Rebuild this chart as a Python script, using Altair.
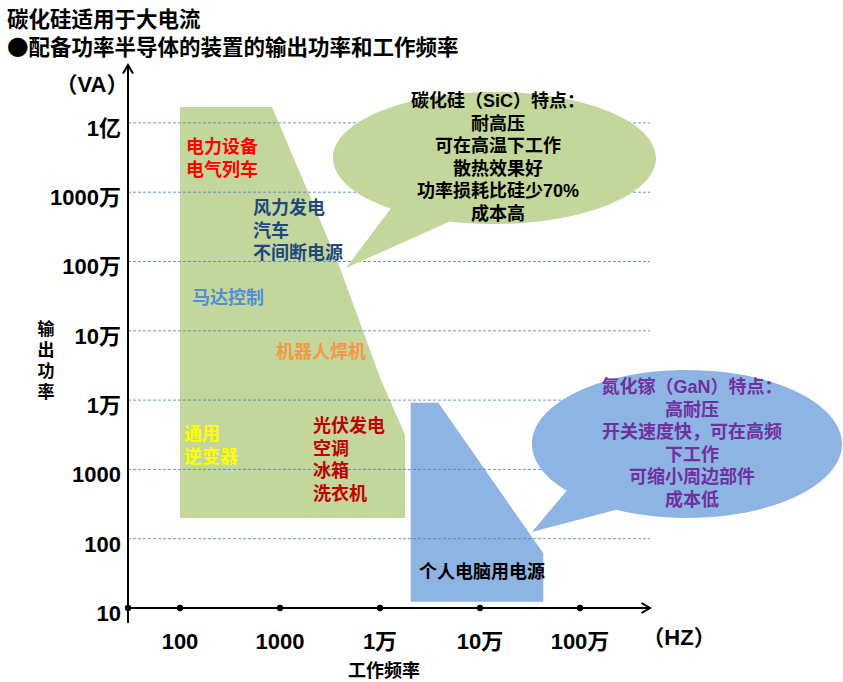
import altair as alt
import pandas as pd

# All positions are in decades: x = log10(working frequency, Hz), y = log10(output power, VA)
y_tick_exp = [1, 2, 3, 4, 5, 6, 7, 8]
y_tick_labels = ["10", "100", "1000", "1万", "10万", "100万", "1000万", "1亿"]
x_tick_exp = [2, 3, 4, 5, 6]
x_tick_labels = ["100", "1000", "1万", "10万", "100万"]

# SiC application region (green) and GaN region (blue)
sic_x = [2.0, 2.92, 3.57, 4.01, 4.25]
sic_top = [8.23, 8.23, 6.02, 4.29, 3.50]
sic_bottom = 2.30
gan_x = [4.307, 4.583, 5.633]
gan_top = [3.962, 3.962, 1.789]
gan_bottom = 1.091

# application labels (position of the first line)
app_texts = ["电力设备\n电气列车", "风力发电\n汽车\n不间断电源", "马达控制", "机器人焊机",
             "通用\n逆变器", "光伏发电\n空调\n冰箱\n洗衣机", "个人电脑用电源"]
app_x = [2.06, 2.73, 2.12, 2.96, 2.04, 3.33, 4.39]
app_y = [7.638, 6.758, 5.459, 4.680, 3.496, 3.612, 1.505]
app_colors = ["#FF0000", "#1F497D", "#558ED5", "#F79646", "#FFFF00", "#C00000", "#000000"]

sic_note = "碳化硅（SiC）特点：\n耐高压\n可在高温下工作\n散热效果好\n功率损耗比硅少70%\n成本高"
gan_note = "氮化镓（GaN）特点：\n高耐压\n开关速度快，可在高频\n下工作\n可缩小周边部件\n成本低"

title_lines = ["碳化硅适用于大电流", "●配备功率半导体的装置的输出功率和工作频率"]

# frame extents (in decades)
AX_X0, AX_X1 = 1.48, 6.70
AX_Y0, AX_Y1 = 0.784, 8.835
X_DOM = [0.2, 8.63]
Y_DOM = [-0.0678, 9.7734]

GREEN = "#C3D69B"
BLUE = "#8DB4E2"
NUMFONT = "Liberation Sans, Noto Sans CJK SC"
CJK = "Noto Sans CJK SC"

xs = alt.Scale(domain=X_DOM, nice=False, zero=False)
ys = alt.Scale(domain=Y_DOM, nice=False, zero=False)
X = lambda f="x": alt.X(f"{f}:Q", scale=xs, axis=None)
Y = lambda f="y": alt.Y(f"{f}:Q", scale=ys, axis=None)


def bubble_path(rx, ry, tail, r):
    k = 0.5523
    a, b = rx / r, ry / r
    p = (f"M{a:.4f},0 C{a:.4f},{k*b:.4f} {k*a:.4f},{b:.4f} 0,{b:.4f} "
         f"C{-k*a:.4f},{b:.4f} {-a:.4f},{k*b:.4f} {-a:.4f},0 "
         f"C{-a:.4f},{-k*b:.4f} {-k*a:.4f},{-b:.4f} 0,{-b:.4f} "
         f"C{k*a:.4f},{-b:.4f} {a:.4f},{-k*b:.4f} {a:.4f},0 Z ")
    pts = [(tx / r, ty / r) for tx, ty in tail]
    p += "M" + " L".join(f"{px:.4f},{py:.4f}" for px, py in pts) + " Z"
    return p


# bubble shapes (pixel extents of the ellipse and its tail, relative to centre)
sic_bubble = bubble_path(161.5, 66, [(-41.5, 62), (-148.5, 110), (-102.5, 49)], 170)
gan_bubble = bubble_path(155, 74, [(-64, 64), (-155, 88), (-118, 44)], 160)

layers = []

# regions
sic_df = pd.DataFrame({"x": sic_x, "y": sic_top, "y2": sic_bottom})
gan_df = pd.DataFrame({"x": gan_x, "y": gan_top, "y2": gan_bottom})
layers.append(alt.Chart(sic_df).mark_area(color=GREEN, opacity=1, orient="vertical").encode(
    x=X(), y=Y(), y2="y2:Q"))
layers.append(alt.Chart(gan_df).mark_area(color=BLUE, opacity=1, orient="vertical").encode(
    x=X(), y=Y(), y2="y2:Q"))

# gridlines
grid_df = pd.DataFrame({"y": y_tick_exp[1:], "x": AX_X0, "x2": AX_X1})
layers.append(alt.Chart(grid_df).mark_rule(color="#4F81C9", strokeDash=[3, 2], strokeWidth=1, opacity=0.85).encode(
    x=X(), x2="x2:Q", y=Y()))

# bubbles
bub_df = pd.DataFrame({"x": [5.145], "y": [7.494]})
layers.append(alt.Chart(bub_df).mark_point(shape=sic_bubble, size=340 ** 2, filled=True, fill=GREEN,
                                           opacity=1, strokeWidth=0).encode(x=X(), y=Y()))
bub2_df = pd.DataFrame({"x": [7.07], "y": [3.367]})
layers.append(alt.Chart(bub2_df).mark_point(shape=gan_bubble, size=320 ** 2, filled=True, fill=BLUE,
                                            opacity=1, strokeWidth=0).encode(x=X(), y=Y()))

# axes lines
yaxis_df = pd.DataFrame({"x": [AX_X0], "y": [AX_Y0], "y2": [AX_Y1]})
layers.append(alt.Chart(yaxis_df).mark_rule(color="black", strokeWidth=2).encode(x=X(), y=Y(), y2="y2:Q"))
xaxis_df = pd.DataFrame({"x": [AX_X0], "x2": [AX_X1], "y": [1.0]})
layers.append(alt.Chart(xaxis_df).mark_rule(color="black", strokeWidth=2).encode(x=X(), x2="x2:Q", y=Y()))

# arrow heads
up_df = pd.DataFrame({"x": [AX_X0], "y": [AX_Y1]})
layers.append(alt.Chart(up_df).mark_point(shape="M-1,1.7 L0,0 L1,1.7", size=100, filled=False,
                                          stroke="black", strokeWidth=2, opacity=1).encode(x=X(), y=Y()))
right_df = pd.DataFrame({"x": [AX_X1], "y": [1.0]})
layers.append(alt.Chart(right_df).mark_point(shape="M-1.7,-1 L0,0 L-1.7,1", size=100, filled=False,
                                             stroke="black", strokeWidth=2, opacity=1).encode(x=X(), y=Y()))

# tick dots
dots_df = pd.DataFrame({"x": [AX_X0] + x_tick_exp, "y": 1.0})
layers.append(alt.Chart(dots_df).mark_circle(color="black", size=40, opacity=1).encode(x=X(), y=Y()))

# y tick labels
ylab_df = pd.DataFrame({"x": 1.41, "y": y_tick_exp, "t": y_tick_labels})
layers.append(alt.Chart(ylab_df).mark_text(align="right", baseline="middle", dy=6, font=NUMFONT,
                                           fontSize=22, fontWeight="bold", color="black").encode(
    x=X(), y=Y(), text="t:N"))

# x tick labels
xlab_df = pd.DataFrame({"x": x_tick_exp, "y": 0.509, "t": x_tick_labels})
layers.append(alt.Chart(xlab_df).mark_text(align="center", baseline="middle", font=NUMFONT,
                                           fontSize=22, fontWeight="bold", color="black").encode(
    x=X(), y=Y(), text="t:N"))

# units and axis titles
unit_df = pd.DataFrame({"x": [6.99, 1.12], "y": [0.567, 8.547], "t": ["（HZ）", "（VA）"]})
layers.append(alt.Chart(unit_df).mark_text(align="center", baseline="middle", font=NUMFONT,
                                           fontSize=22, fontWeight="bold", color="black").encode(
    x=X(), y=Y(), text="t:N"))
xt_df = pd.DataFrame({"x": [4.04], "y": [0.0765], "t": ["工作频率"]})
layers.append(alt.Chart(xt_df).mark_text(align="center", baseline="middle", font=CJK,
                                         fontSize=18, fontWeight="bold", color="black").encode(
    x=X(), y=Y(), text="t:N"))
yt_df = pd.DataFrame({"x": [0.66], "y": [5.012], "t": ["输\n出\n功\n率"]})
layers.append(alt.Chart(yt_df).mark_text(align="center", baseline="middle", font=CJK, lineBreak="\n",
                                         lineHeight=21, fontSize=17, fontWeight="bold", color="black").encode(
    x=X(), y=Y(), text="t:N"))

# title
title_df = pd.DataFrame({"x": 0.27, "y": [9.47, 9.066], "t": title_lines})
layers.append(alt.Chart(title_df).mark_text(align="left", baseline="middle", font=CJK,
                                            fontSize=21.5, fontWeight="bold", color="black").encode(
    x=X(), y=Y(), text="t:N"))

# application labels
app_df = pd.DataFrame({"x": app_x, "y": app_y, "t": app_texts, "c": app_colors})
layers.append(alt.Chart(app_df).mark_text(align="left", baseline="middle", font=CJK, lineBreak="\n",
                                          lineHeight=22.6, fontSize=18, fontWeight="bold").encode(
    x=X(), y=Y(), text="t:N", color=alt.Color("c:N", scale=None)))

# bubble notes (position of the first line)
note_df = pd.DataFrame({"x": [5.18, 7.12], "y": [8.302, 4.175], "t": [sic_note, gan_note],
                        "c": ["#000000", "#7030A0"]})
layers.append(alt.Chart(note_df).mark_text(align="center", baseline="middle", font=NUMFONT, lineBreak="\n",
                                           lineHeight=22.6, fontSize=18, fontWeight="bold").encode(
    x=X(), y=Y(), text="t:N", color=alt.Color("c:N", scale=None)))

chart = alt.layer(*layers).properties(
    width=843, height=682, padding=0, autosize=alt.AutoSizeParams(type="none"),
    background="white"
).configure_view(stroke=None)

chart.save("out.html", embed_options={"renderer": "svg", "actions": False})
